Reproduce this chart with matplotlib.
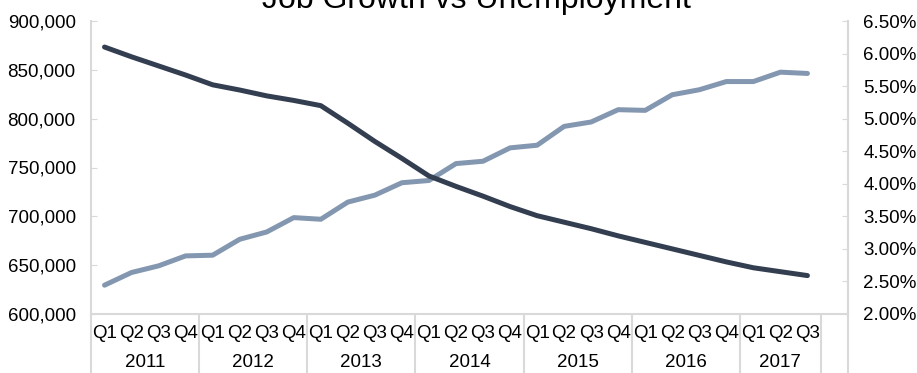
import matplotlib.pyplot as plt
import matplotlib.transforms as mtransforms
from matplotlib.ticker import FuncFormatter

plt.rcParams['font.family'] = ['Liberation Sans', 'DejaVu Sans']

quarters = ["Q1", "Q2", "Q3", "Q4"] * 6 + ["Q1", "Q2", "Q3"]
years = ["2011", "2012", "2013", "2014", "2015", "2016", "2017"]
quarters_per_year = [4, 4, 4, 4, 4, 4, 3]

jobs = [629500, 642500, 649300, 659500, 660200, 676500, 684000, 698700, 697000,
        714600, 721700, 734400, 736700, 754000, 756400, 770100, 772800, 792100,
        796600, 809200, 808500, 824500, 829600, 838000, 838000, 847600, 846300]
unemployment = [6.10, 5.95, 5.81, 5.67, 5.52, 5.44, 5.35, 5.28, 5.20,
                4.93, 4.65, 4.39, 4.12, 3.96, 3.81, 3.65, 3.51, 3.41,
                3.31, 3.20, 3.10, 3.00, 2.90, 2.80, 2.71, 2.65, 2.59]

light = "#8497B0"
dark = "#333F50"
grey = "#D9D9D9"

fig = plt.figure(figsize=(9.17, 3.73), dpi=100)
ax = fig.add_axes([91 / 917, 59 / 373, 757 / 917, 293 / 373])
ax2 = ax.twinx()

x = list(range(len(jobs)))
ax.plot(x, jobs, color=light, lw=3.6, solid_capstyle="round", solid_joinstyle="round")
ax2.plot(x, unemployment, color=dark, lw=3.6, solid_capstyle="round", solid_joinstyle="round")

ax.set_xlim(-0.5, 27.5)
ax.set_ylim(600000, 900000)
ax.set_yticks(range(600000, 900001, 50000))
ax.yaxis.set_major_formatter(FuncFormatter(lambda v, p: f"{int(v):,}"))
ax2.set_ylim(2.0, 6.5)
ax2.set_yticks([2.0 + 0.5 * i for i in range(10)])
ax2.yaxis.set_major_formatter(FuncFormatter(lambda v, p: f"{v:.2f}%"))

for a in (ax, ax2):
    for s in a.spines.values():
        s.set_color(grey)
        s.set_linewidth(1.5)
    a.spines["top"].set_visible(False)
ax2.spines["left"].set_visible(False)
ax2.spines["bottom"].set_visible(False)

ax.tick_params(axis="y", direction="in", length=4, color=grey, labelsize=13.5, pad=11)
ax2.tick_params(axis="y", direction="in", length=4, color=grey, labelsize=13.5, pad=11)

# quarter labels
ax.set_xticks(x)
ax.set_xticklabels(quarters)
ax.tick_params(axis="x", which="major", length=0, labelsize=13.5, pad=8)

# year group separators
bounds = [-0.5]
for n in quarters_per_year:
    bounds.append(bounds[-1] + n)
bounds.append(27.5)
ax.set_xticks(bounds, minor=True)
ax.tick_params(axis="x", which="minor", direction="out", length=43, width=1.5, color=grey)

trans = mtransforms.blended_transform_factory(ax.transData, ax.transAxes)
start = -0.5
for yr, n in zip(years, quarters_per_year):
    ax.text(start + n / 2, -0.167, yr, transform=trans, ha="center", va="center", fontsize=13.5)
    start += n

# title is clipped at the top edge, as in the source image
fig.text(0.52, 0.979, "Job Growth vs Unemployment", ha="center", va="baseline", fontsize=23)

fig.savefig("out.png", dpi=100)
